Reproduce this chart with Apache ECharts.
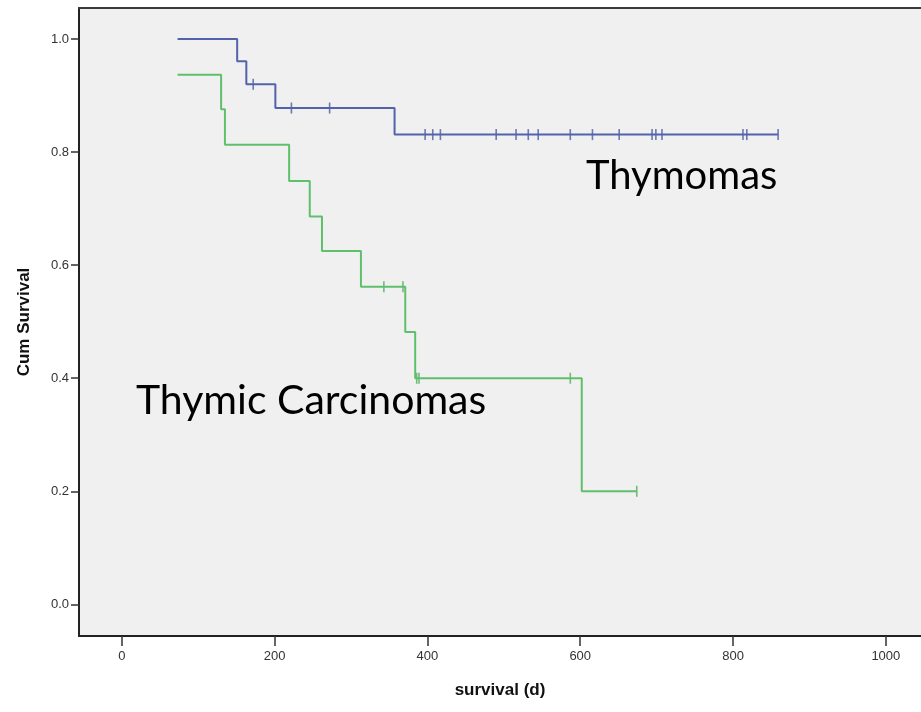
<!DOCTYPE html>
<html>
<head>
<meta charset="utf-8">
<script src="https://cdn.jsdelivr.net/npm/echarts@6/dist/echarts.min.js"></script>
<style>
  html, body { margin: 0; padding: 0; background: #fff; }
  #chart { width: 921px; height: 712px; }
</style>
</head>
<body>
<div id="chart"></div>
<script>
    // Kaplan-Meier steps
    var thymomaTimes = [73, 151, 163, 201, 357, 859];
    var thymomaSurv  = [1.0, 0.961, 0.920, 0.878, 0.831, 0.831];
    var thymomaCensorTimes = [172, 222, 272, 397, 407, 417, 490, 516, 532, 545, 587, 616, 651, 694, 699, 707, 813, 818, 859];
    var thymomaCensorSurv  = [0.920, 0.878, 0.878, 0.831, 0.831, 0.831, 0.831, 0.831, 0.831, 0.831, 0.831, 0.831, 0.831, 0.831, 0.831, 0.831, 0.831, 0.831, 0.831];

    var carcTimes = [73, 130, 135, 219, 246, 262, 313, 371, 384, 602, 674];
    var carcSurv  = [0.937, 0.876, 0.813, 0.749, 0.686, 0.625, 0.562, 0.482, 0.400, 0.200, 0.200];
    var carcCensorTimes = [343, 368, 386, 389, 587, 674];
    var carcCensorSurv  = [0.562, 0.562, 0.400, 0.400, 0.400, 0.200];

    var xTicks = [0, 200, 400, 600, 800, 1000];
    var yTicks = [0.0, 0.2, 0.4, 0.6, 0.8, 1.0];

    function pairs(xs, ys) {
        return xs.map(function (x, i) { return [x, ys[i]]; });
    }

    var blue = '#5363ab';
    var green = '#5fc06c';

    var myChart = echarts.init(document.getElementById('chart'));

    var option = {
        backgroundColor: '#fff',
        animation: false,
        grid: {
            left: 79,
            top: 8,
            right: 0,
            bottom: 76,
            show: true,
            backgroundColor: '#f0f0f0',
            borderWidth: 0
        },
        xAxis: [{
            type: 'value',
            min: -56,
            max: 1046,
            name: 'survival (d)',
            nameLocation: 'middle',
            nameGap: 46,
            nameTextStyle: { fontFamily: 'Liberation Sans', fontWeight: 'bold', fontSize: 17, color: '#111' },
            splitLine: { show: false },
            axisLine: { show: true, onZero: false, lineStyle: { color: '#222', width: 2 } },
            axisTick: { show: true, length: 10, customValues: xTicks, lineStyle: { color: '#333', width: 1.5 } },
            axisLabel: {
                customValues: xTicks,
                margin: 14,
                fontFamily: 'Liberation Sans',
                fontSize: 13,
                color: '#333',
                formatter: function (v) { return String(v); }
            }
        }, {
            // top frame line only
            type: 'value',
            position: 'top',
            min: -56,
            max: 1046,
            splitLine: { show: false },
            axisLine: { show: true, onZero: false, lineStyle: { color: '#3a3a3a', width: 2 } },
            axisTick: { show: false },
            axisLabel: { show: false }
        }],
        yAxis: {
            type: 'value',
            min: -0.056,
            max: 1.055,
            name: 'Cum Survival',
            nameLocation: 'middle',
            nameGap: 46,
            nameTextStyle: { fontFamily: 'Liberation Sans', fontWeight: 'bold', fontSize: 17, color: '#111' },
            splitLine: { show: false },
            axisLine: { show: true, onZero: false, lineStyle: { color: '#222', width: 2 } },
            axisTick: { show: true, length: 8, customValues: yTicks, lineStyle: { color: '#333', width: 1.5 } },
            axisLabel: {
                customValues: yTicks,
                margin: 10,
                fontFamily: 'Liberation Sans',
                fontSize: 13,
                color: '#333',
                formatter: function (v) { return v.toFixed(1); }
            }
        },
        series: [
            {
                name: 'Thymomas',
                type: 'line',
                step: 'end',
                showSymbol: false,
                lineStyle: { color: blue, width: 2 },
                data: pairs(thymomaTimes, thymomaSurv)
            },
            {
                name: 'Thymic Carcinomas',
                type: 'line',
                step: 'end',
                showSymbol: false,
                lineStyle: { color: green, width: 2 },
                data: pairs(carcTimes, carcSurv)
            },
            {
                name: 'Thymomas censored',
                type: 'scatter',
                symbol: 'rect',
                symbolSize: [1.6, 11],
                itemStyle: { color: '#4a5aa5' },
                data: pairs(thymomaCensorTimes, thymomaCensorSurv)
            },
            {
                name: 'Carcinomas censored',
                type: 'scatter',
                symbol: 'rect',
                symbolSize: [1.6, 11],
                itemStyle: { color: '#4fae5c' },
                data: pairs(carcCensorTimes, carcCensorSurv)
            }
        ],
        graphic: [
            {
                type: 'text',
                left: 586,
                top: 156,
                style: { text: 'Thymomas', font: '40px Lato', fill: '#000' }
            },
            {
                type: 'text',
                left: 136,
                top: 380,
                style: { text: 'Thymic Carcinomas', font: '41px Lato', fill: '#000' }
            }
        ]
    };
    myChart.setOption(option);
</script>
</body>
</html>
